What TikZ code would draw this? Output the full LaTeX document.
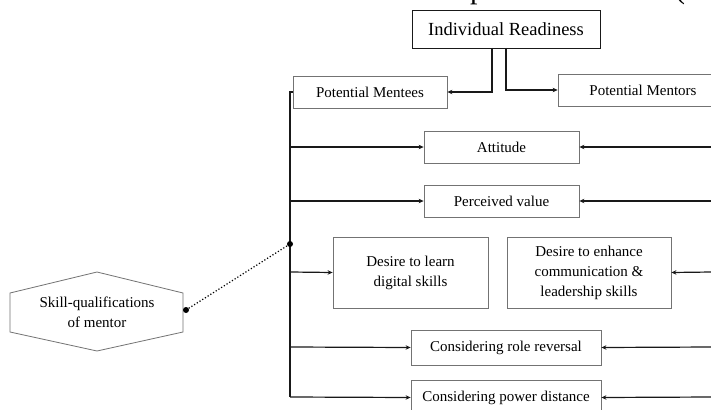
\documentclass[tikz,border=0pt]{standalone}
\usepackage{fontspec}
\setmainfont{Liberation Serif}
\usetikzlibrary{arrows.meta}
\begin{document}
\begin{tikzpicture}[x=1pt,y=-1pt,
  box/.style={draw=black!55,line width=0.8pt,fill=white,text=black,
    font=\fontsize{15}{20}\selectfont,align=center,inner sep=0pt},
  link/.style={line width=1.2pt,draw=black!90},
  arr/.style={link,-{Stealth[length=5pt,width=4.5pt]}},
  joint/.style={circle,fill=black,inner sep=0pt,minimum size=6pt}]
\useasboundingbox[fill=white] (0,0) rectangle (711,409);

% fragments of the heading above
\node[anchor=base west,inner sep=0pt,font=\fontsize{30}{30}\selectfont,text=black] (headp) at (470,-1) {p};
\node[anchor=base west,inner sep=0pt,font=\fontsize{30}{30}\selectfont,text=black] (headparen) at (675,-1) {(};

% boxes
\node[box,draw=black!90,minimum width=188pt,minimum height=38pt,
  font=\fontsize{18.5}{22}\selectfont] (ir) at (506,29) {Individual Readiness};
\node[box,minimum width=154pt,minimum height=32pt] (mentees) at (370,92) {Potential Mentees};
\node[box,minimum width=170pt,minimum height=32pt] (mentors) at (643,90) {Potential Mentors};
\node[box,minimum width=155pt,minimum height=32pt] (att) at (501.5,147) {Attitude};
\node[box,minimum width=155pt,minimum height=32pt] (perc) at (501.5,201) {Perceived value};
\node[box,minimum width=155pt,minimum height=71pt] (learn) at (410.5,272.5) {Desire to learn\\digital skills};
\node[box,minimum width=164pt,minimum height=71pt] (enh) at (589,272.5) {Desire to enhance\\communication \&\\leadership skills};
\node[box,minimum width=190pt,minimum height=35pt] (role) at (506,347.5) {Considering role reversal};
\node[box,minimum width=190pt,minimum height=35pt] (power) at (506,397.5) {Considering power distance};

% hexagon
\draw[draw=black!55,line width=0.8pt,fill=white]
  (97,272) -- (183,293) -- (183,332) -- (97,351) -- (10,332) -- (10,293) -- cycle;
\node[align=center,inner sep=0pt,text=black,font=\fontsize{15}{20}\selectfont] (skill) at (97,312) {Skill-qualifications\\of mentor};

% split from the top box
\coordinate (irl) at (492,48);
\coordinate (irr) at (506,48);
\draw[arr] (irl) |- (mentees.east);
\draw[arr] (irr) |- (mentors.west);

% left bus
\coordinate (bustop) at (290,92);
\coordinate (busbot) at (290,397);
\draw[link] (mentees.west) -- (bustop) -- (busbot);
\draw[arr] (290,147) -- (att.west);
\draw[arr] (290,201) -- (perc.west);
\draw[arr] (290,272) -- (learn.west);
\draw[arr] (290,347) -- (role.west);
\draw[arr] (busbot) -- (power.west);

% arrows entering from the right edge
\coordinate (r1) at (712,147);
\coordinate (r2) at (712,201);
\coordinate (r3) at (712,272);
\coordinate (r4) at (712,347);
\coordinate (r5) at (712,397);
\draw[arr] (r1) -- (att.east);
\draw[arr] (r2) -- (perc.east);
\draw[arr] (r3) -- (enh.east);
\draw[arr] (r4) -- (role.east);
\draw[arr] (r5) -- (power.east);

% dotted link from the hexagon to the bus
\node[joint] (busdot) at (290,244) {};
\node[joint] (hexdot) at (186,310) {};
\draw[line width=1.2pt,dotted] (hexdot) -- (busdot);
\end{tikzpicture}
\end{document}
